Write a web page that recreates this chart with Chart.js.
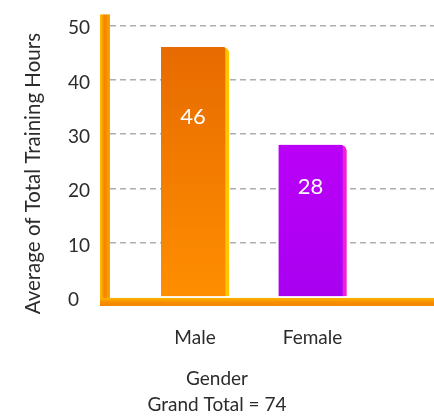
<!DOCTYPE html>
<html>
<head>
<meta charset="utf-8">
<script src="https://cdn.jsdelivr.net/npm/chart.js@4/dist/chart.umd.min.js"></script>
<style>
  html, body { margin: 0; padding: 0; background: #fff; }
  #wrap { width: 434px; height: 419px; position: relative; }
</style>
</head>
<body>
<div id="wrap"><canvas id="genderChart"></canvas></div>
<script>
const categories = ["Male", "Female"];
const avgHours = [46, 28];
const yTicks = [0, 10, 20, 30, 40, 50];
const yTitle = "Average of Total Training Hours";
const xTitle = "Gender";

// bar colours: top of gradient, bottom of gradient, lit right edge
const barTop = ["#E46600", "#CA00FF"];
const barBottom = ["#FF8E00", "#A900F0"];
const barEdge = ["#FFC600", "#F51ED8"];

const FONT = "Lato";
const TEXT = "#2b2b2b";

const grandTotal = avgHours.reduce((sum, v) => sum + v, 0);

function barFill(ctx) {
  const i = ctx.dataIndex;
  const area = ctx.chart.chartArea;
  if (!area) return barTop[i];
  const g = ctx.chart.ctx.createLinearGradient(0, area.top, 0, area.bottom);
  g.addColorStop(0, barTop[i]);
  g.addColorStop(1, barBottom[i]);
  return g;
}

// thick orange axis frame on the left and along the bottom
const axisFrame = {
  id: "axisFrame",
  afterDatasetsDraw(chart) {
    const { ctx, chartArea: a } = chart;
    const w = 10;
    ctx.save();
    let g = ctx.createLinearGradient(a.left - w, 0, a.left, 0);
    g.addColorStop(0, "#FFC400");
    g.addColorStop(0.45, "#F58300");
    g.addColorStop(1, "#F9A600");
    ctx.fillStyle = g;
    ctx.fillRect(a.left - w, a.top, w, a.bottom - a.top + 9);

    g = ctx.createLinearGradient(0, a.bottom + 1, 0, a.bottom + 9);
    g.addColorStop(0, "#FFB400");
    g.addColorStop(0.5, "#F79000");
    g.addColorStop(1, "#F08400");
    ctx.fillStyle = g;
    ctx.fillRect(a.left - w, a.bottom + 1, a.right - a.left + w, 8);
    ctx.restore();
  },
};

// white value inside each bar
const valueLabels = {
  id: "valueLabels",
  afterDatasetsDraw(chart) {
    const { ctx } = chart;
    const y = chart.scales.y;
    ctx.save();
    ctx.fillStyle = "#fff";
    ctx.font = `22px ${FONT}`;
    ctx.textAlign = "center";
    ctx.textBaseline = "middle";
    chart.getDatasetMeta(0).data.forEach((bar, i) => {
      ctx.fillText(String(avgHours[i]), bar.x - 2, y.getPixelForValue(avgHours[i] * 0.72));
    });
    ctx.restore();
  },
  afterLayout(chart) {
    // nudge the rotated axis title down a little
    const t = chart.scales.yTitle;
    t.top += 18;
    t.bottom += 18;
  },
};

new Chart(document.getElementById("genderChart"), {
  type: "bar",
  data: {
    datasets: [
      {
        data: avgHours.map((v, i) => ({ x: i + 1, y: v })),
        xAxisID: "x",
        yAxisID: "y",
        backgroundColor: barFill,
        borderColor: (ctx) => barEdge[ctx.dataIndex],
        borderWidth: { top: 0, right: 4, bottom: 0, left: 0 },
        borderRadius: { topRight: 6 },
        borderSkipped: "bottom",
        barThickness: 68,
      },
    ],
  },
  options: {
    responsive: true,
    maintainAspectRatio: false,
    animation: false,
    layout: { padding: { top: 8, right: 0, left: 0, bottom: 0 } },
    plugins: {
      legend: { display: false },
      tooltip: { enabled: false },
      title: {
        display: true,
        position: "bottom",
        text: [xTitle, `Grand Total = ${grandTotal}`],
        color: TEXT,
        font: { family: FONT, size: 19, weight: "normal", lineHeight: 1.37 },
        padding: { top: 10, bottom: 1 },
      },
    },
    scales: {
      x: {
        type: "linear",
        position: "bottom",
        offset: false,
        min: 0.2766,
        max: 3.034,
        afterBuildTicks: (scale) => {
          scale.ticks = categories.map((c, i) => ({ value: i + 1 }));
        },
        afterFit: (scale) => {
          scale.height = 59;
        },
        grid: { display: false, offset: false },
        border: { display: false },
        ticks: {
          padding: 22,
          color: TEXT,
          font: { family: FONT, size: 19 },
          callback: (v, i) => categories[i],
        },
      },
      y: {
        type: "linear",
        position: "left",
        weight: 0,
        min: 0,
        max: 52,
        afterBuildTicks: (scale) => {
          scale.ticks = yTicks.map((v) => ({ value: v }));
        },
        afterFit: (scale) => {
          scale.width = 42;
        },
        grid: {
          drawTicks: false,
          lineWidth: 1.5,
          color: (ctx) => (ctx.tick && ctx.tick.value === 0 ? "rgba(0,0,0,0)" : "#AEAEAE"),
        },
        border: { display: false, dash: [6, 4] },
        ticks: {
          crossAlign: "far",
          labelOffset: 3,
          color: TEXT,
          font: { family: FONT, size: 19 },
        },
      },
      yTitle: {
        type: "linear",
        position: "left",
        weight: 1,
        afterFit: (scale) => {
          scale.width = 68;
        },
        grid: { display: false },
        border: { display: false },
        ticks: { display: false },
        title: {
          display: true,
          text: yTitle,
          color: TEXT,
          font: { family: FONT, size: 20.5 },
          padding: { top: 21, bottom: 0 },
        },
      },
    },
  },
  plugins: [axisFrame, valueLabels],
});
</script>
</body>
</html>
